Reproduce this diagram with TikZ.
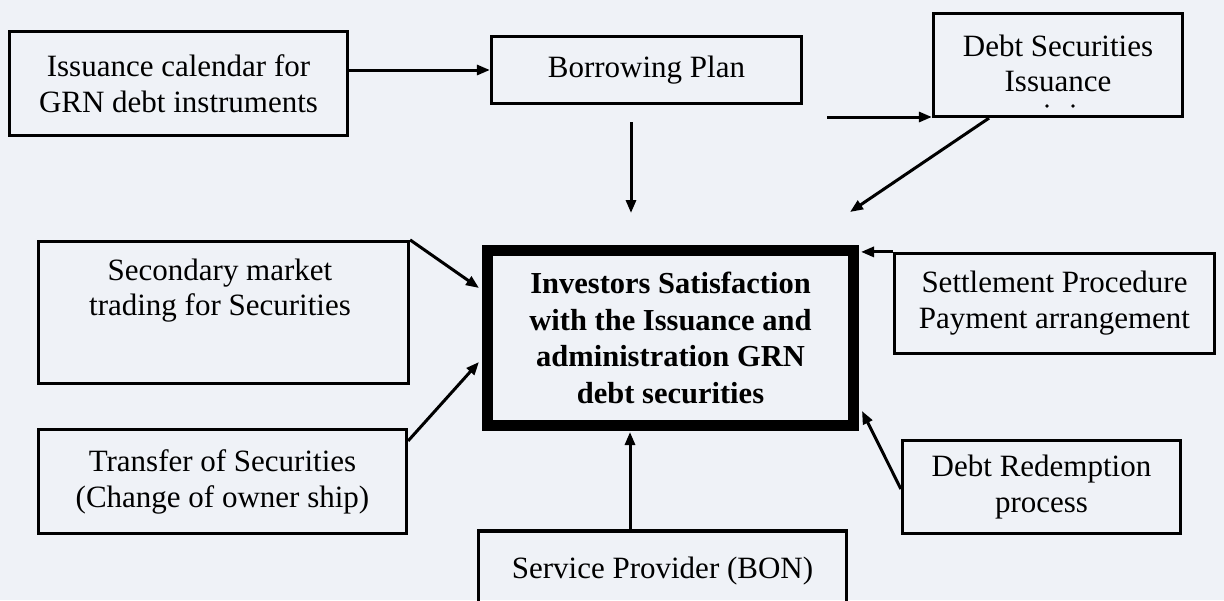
\documentclass[tikz,border=0pt]{standalone}
\usepackage{fontspec}
\setmainfont{Liberation Serif}
\usetikzlibrary{arrows.meta,calc}
\definecolor{paper}{RGB}{239,242,247}
\begin{document}
\begin{tikzpicture}[x=1pt,y=-1pt,
  box/.style={draw=black, line width=3.2pt, inner sep=0pt, align=center,
    font=\fontsize{31}{36}\selectfont},
  hub/.style={draw=black, line width=11pt, inner sep=0pt, align=center,
    font=\bfseries\fontsize{30.5}{36.5}\selectfont},
  txt/.style={inner sep=0pt, align=center, font=\fontsize{31}{35}\selectfont},
  arr/.style={line width=3pt, -{Triangle[length=13pt,width=10pt]}}
]
\useasboundingbox (0,0) rectangle (1224,600);
\fill[paper] (0,0) rectangle (1224,600);
\begin{scope}
\clip (0,0) rectangle (1224,600);

% boxes
\node[box, minimum width=338pt, minimum height=104pt] (cal) at (178.5,83.5)
  {Issuance calendar for\\GRN debt instruments};
\node[box, minimum width=310pt, minimum height=67pt] (plan) at (646.5,70)
  {Borrowing Plan};
\node[box, minimum width=249pt, minimum height=103pt] (issue) at (1058,65) {};
\node[txt] (issuetext) at (1058,63) {Debt Securities\\Issuance};
\fill (1047,106) circle (1.8pt) (1073,106) circle (1.8pt);

\node[box, minimum width=370pt, minimum height=142pt] (sec) at (223.5,312.5) {};
\node[txt] (sectext) at (220,290.5) {Secondary market\\trading for Securities};
\node[box, minimum width=368pt, minimum height=104pt] (trans) at (222.5,481.5)
  {Transfer of Securities\\(Change of owner ship)};

\node[hub, minimum width=366pt, minimum height=175pt] (hubbox) at (670.5,338)
  {Investors Satisfaction\\with the Issuance and\\administration GRN\\debt securities};

\node[box, minimum width=320pt, minimum height=100pt] (settle) at (1054.5,303.5)
  {Settlement Procedure\\Payment arrangement};
\node[box, minimum width=278pt, minimum height=93pt] (red) at (1041.5,487)
  {Debt Redemption\\process};
\node[box, minimum width=368pt, minimum height=80pt] (serv) at (662.5,571)
  {Service Provider (BON)};

% free ends of connectors
\coordinate (pd1) at (631,122);
\coordinate (pd2) at (631,213);
\coordinate (ia) at (827,117);
\coordinate (ib) at (850,212);
\coordinate (hsec) at (479,288);
\coordinate (htr) at (479,362);
\coordinate (hst) at (861,250);
\coordinate (hred) at (862,411);
\coordinate (hup) at (630,432);

% connectors
\draw[arr] (cal.east |- plan.west) -- (plan.west);
\draw[arr] (pd1) -- (pd2);
\draw[arr] (ia) -- (ia -| issue.west);
\draw[arr] ([xshift=-69pt]issue.south) -- (ib);
\draw[arr] (sec.north east) -- (hsec);
\draw[arr] ([yshift=-13pt]trans.north east) -- (htr);
\draw[arr] (settle.north west) -- (hst |- settle.north west);
\draw[arr] ([yshift=-2pt]red.west) -- (hred);
\draw[arr] (hup |- serv.north) -- (hup);
\end{scope}
\end{tikzpicture}
\end{document}
